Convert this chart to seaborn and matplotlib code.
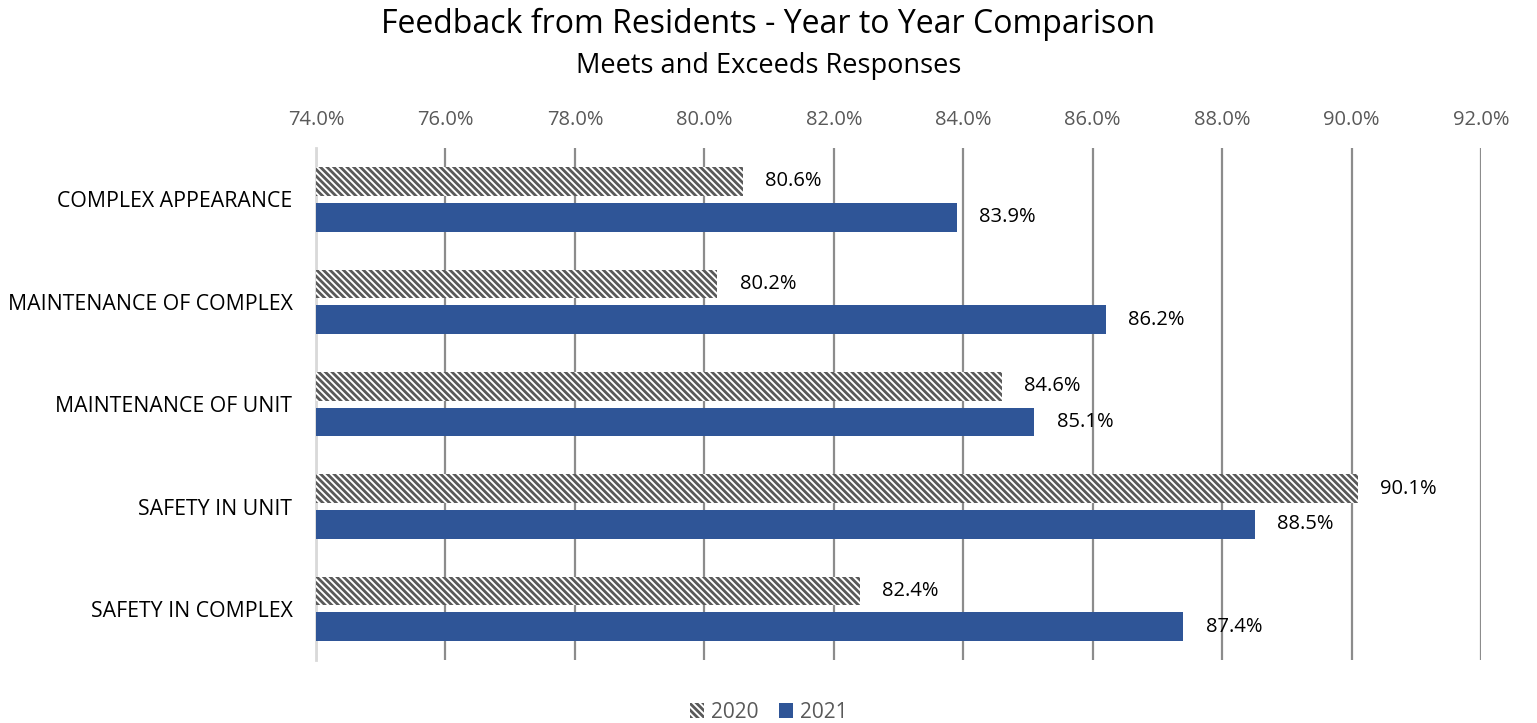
import matplotlib
matplotlib.use("Agg")
import matplotlib.pyplot as plt
import seaborn as sns
import pandas as pd
from matplotlib.patches import Patch
from matplotlib.ticker import FuncFormatter, MultipleLocator

categories = ["COMPLEX APPEARANCE", "MAINTENANCE OF COMPLEX", "MAINTENANCE OF UNIT",
              "SAFETY IN UNIT", "SAFETY IN COMPLEX"]
values_2020 = [80.6, 80.2, 84.6, 90.1, 82.4]
values_2021 = [83.9, 86.2, 85.1, 88.5, 87.4]
years = ["2020", "2021"]

df = pd.DataFrame({
    "category": categories * 2,
    "value": values_2020 + values_2021,
    "year": [years[0]] * len(categories) + [years[1]] * len(categories),
})

sns.set_style("white")
plt.rcParams["font.family"] = ["Open Sans", "DejaVu Sans"]
plt.rcParams["hatch.linewidth"] = 2.0

BLUE = "#2F5597"
HATCH_C = "#595959"
HATCH = "\\" * 5

fig = plt.figure(figsize=(15.37, 7.23), dpi=100)
ax = fig.add_axes([0.2056, 0.087, 0.7580, 0.708])

sns.barplot(data=df, y="category", x="value", hue="year", order=categories,
            hue_order=years, palette=["white", BLUE], saturation=1, width=0.7, gap=0.2,
            orient="h", ax=ax, legend=False, zorder=3)

for bar in ax.containers[0]:
    bar.set_facecolor("white")
    bar.set_edgecolor(HATCH_C)
    bar.set_hatch(HATCH)
    bar.set_linewidth(0)
for bar in ax.containers[1]:
    bar.set_facecolor(BLUE)
    bar.set_linewidth(0)

for cont, vals in zip(ax.containers, [values_2020, values_2021]):
    ax.bar_label(cont, labels=[f"{v:.1f}%" for v in vals], padding=16,
                 fontsize=14.5, color="black")

ax.set_xlim(74, 92)
ax.xaxis.set_major_locator(MultipleLocator(2))
ax.xaxis.set_major_formatter(FuncFormatter(lambda v, p: f"{v:.1f}%"))
ax.xaxis.tick_top()
ax.tick_params(axis="x", length=0, labelsize=14.5, labelcolor="#595959", pad=13)
ax.tick_params(axis="y", length=0, labelsize=15.3, labelcolor="black", pad=17)
ax.grid(axis="x", color="#8C8C8C", linewidth=1.6, zorder=0)
ax.set_axisbelow(True)
ax.set_xlabel("")
ax.set_ylabel("")
for s in ["top", "right", "bottom"]:
    ax.spines[s].set_visible(False)
ax.spines["left"].set_color("#D9D9D9")
ax.spines["left"].set_linewidth(2)

fig.text(0.5, 0.966, "Feedback from Residents - Year to Year Comparison",
         ha="center", va="center", fontsize=23, color="black")
fig.text(0.5, 0.909, "Meets and Exceeds Responses",
         ha="center", va="center", fontsize=19.5, color="black")

handles = [Patch(facecolor="white", edgecolor=HATCH_C, hatch=HATCH, linewidth=0),
           Patch(facecolor=BLUE, edgecolor=BLUE, linewidth=0)]
fig.legend(handles, years, loc="center", bbox_to_anchor=(0.5, 0.015), ncol=2,
           frameon=False, fontsize=15, labelcolor="#595959",
           handlelength=0.7, handleheight=0.7, handletextpad=0.3, columnspacing=1.0)

fig.savefig("out.png", dpi=100)
